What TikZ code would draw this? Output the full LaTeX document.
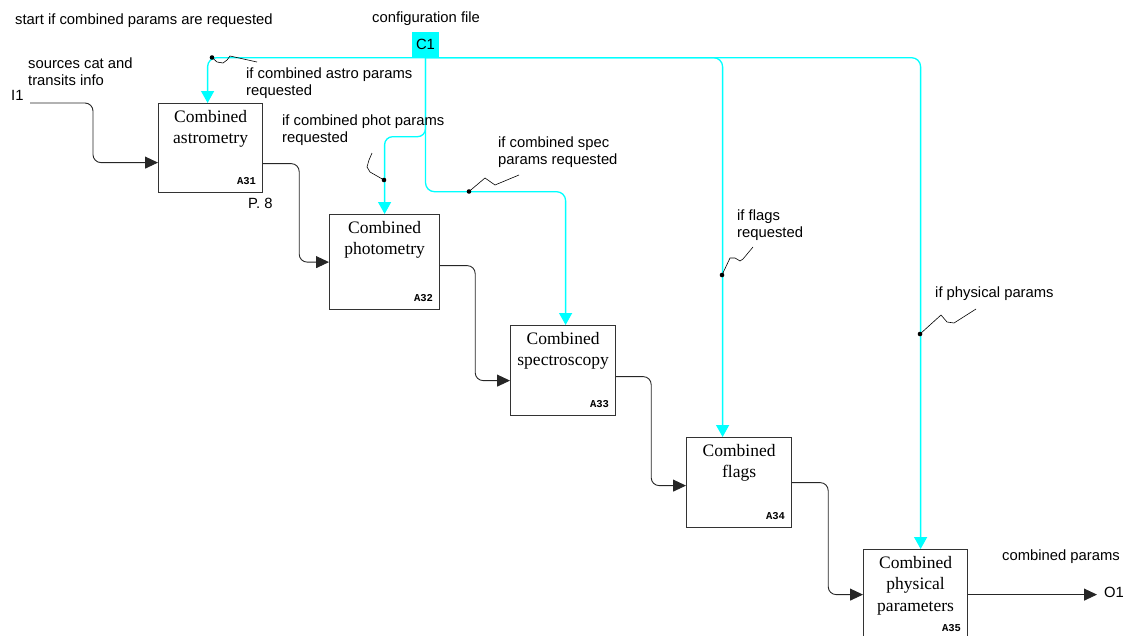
\documentclass[tikz,border=0pt]{standalone}
\usepackage{fontspec}
\setmainfont{Liberation Serif}
\setsansfont{Liberation Sans}
\setmonofont{Liberation Mono}
\usetikzlibrary{arrows.meta,calc}

\definecolor{cyanline}{RGB}{0,255,255}

\tikzset{
  fbox/.style={draw=black!80, line width=1.2pt, rectangle, inner sep=0pt, anchor=north west},
  btext/.style={anchor=north, align=center, inner sep=0pt, font=\fontsize{17.5}{21.5}\selectfont},
  bid/.style={anchor=south east, inner sep=0pt, font=\ttfamily\bfseries\fontsize{10.5}{10.5}\selectfont},
  lab/.style={anchor=west, align=left, inner sep=0pt, font=\sffamily\fontsize{14.8}{17}\selectfont},
  flow/.style={draw=black!85, line width=0.9pt, rounded corners=8pt, -{Triangle[length=13pt,width=12pt]}},
  ctrl/.style={draw=cyanline, line width=1.3pt, rounded corners=9pt},
  ctrlarr/.style={ctrl, -{Triangle[length=12pt,width=13pt]}},
  squig/.style={draw=black, line width=0.6pt},
  junction/.style={fill=black},
}

\begin{document}
\begin{tikzpicture}[x=1pt,y=-1pt]
\useasboundingbox (0,0) rectangle (1126,635);

% activity boxes
\node[fbox, minimum width=104pt, minimum height=89pt] (A31) at (158,103) {};
\node[fbox, minimum width=110pt, minimum height=95pt] (A32) at (329,214) {};
\node[fbox, minimum width=105pt, minimum height=90pt] (A33) at (510,325) {};
\node[fbox, minimum width=105pt, minimum height=90pt] (A34) at (686,437) {};
\node[fbox, minimum width=104pt, minimum height=90pt] (A35) at (863,549) {};

\node[btext] (t31) at ([yshift=-7pt]A31.north) {Combined\\astrometry};
\node[btext] (t32) at ([yshift=-7pt]A32.north) {Combined\\photometry};
\node[btext] (t33) at ([yshift=-7pt]A33.north) {Combined\\spectroscopy};
\node[btext] (t34) at ([yshift=-7pt]A34.north) {Combined\\flags};
\node[btext] (t35) at ([yshift=-7pt]A35.north) {Combined\\physical\\parameters};

\node[bid] (n31) at ([xshift=-7pt,yshift=8pt]A31.south east) {A31};
\node[bid] (n32) at ([xshift=-7pt,yshift=8pt]A32.south east) {A32};
\node[bid] (n33) at ([xshift=-7pt,yshift=8pt]A33.south east) {A33};
\node[bid] (n34) at ([xshift=-7pt,yshift=8pt]A34.south east) {A34};
\node[bid] (n35) at ([xshift=-7pt,yshift=8pt]A35.south east) {A35};

% control input
\node[fill=cyanline, minimum width=27pt, minimum height=26pt, inner sep=0pt,
      font=\sffamily\fontsize{14.8}{14.8}\selectfont] (C1) at (425.5,44.5) {C1};

\draw[ctrlarr] (C1.south) -| ([xshift=-3pt]A31.north);
\draw[ctrlarr] (C1.south) -| ([xshift=-16.5pt]A34.north);
\draw[ctrlarr] (C1.south) -| ([xshift=5pt]A35.north);
\draw[ctrlarr] (C1.south) -- ++(0,134) -| ([xshift=2.5pt]A33.north);
\draw[ctrlarr, rounded corners=8pt] (C1.south) -- ++(0,79) -| (A32.north);

% branch junctions and their label leaders
\coordinate (j1) at (212,57.5);
\coordinate (j2) at (384,180);
\coordinate (j3) at (469,191.5);
\coordinate (j4) at (722,275);
\coordinate (j5) at (920,334);
\foreach \j in {j1,j2,j3,j4,j5} \fill[junction] (\j) circle (2.3pt);

\draw[squig] (j1) -- (217,62) -- (223,63) -- (227,60) -- (230,56) -- (257,62);
\draw[squig] (j2) -- (370,172) -- (367,167) -- (369,160) -- (372,153);
\draw[squig] (j3) -- (485,178) -- (495,185) -- (519,175);
\draw[squig] (j4) -- (730,258) -- (735,258) -- (740,261) -- (743,259) -- (753,247);
\draw[squig] (j5) -- (941,315) -- (947,322) -- (954,323) -- (976,309);

% data flows
\node[lab] (I1) at (11,95) {I1};
\coordinate (i1) at (30,103);
\coordinate (o1) at (1097,593);
\node[lab] (O1) at (1104,592) {O1};

\draw[flow] (i1) -- ++(63,0) |- ([yshift=-14.5pt]A31.west);
\draw[flow] ([yshift=-15.5pt]A31.east) -- ++(36,0) |- (A32.west);
\draw[flow] ([yshift=-3.5pt]A32.east) -- ++(35,0) |- ([yshift=-10pt]A33.west);
\draw[flow] ([yshift=-6pt]A33.east) -- ++(35,0) |- ([yshift=-3pt]A34.west);
\draw[flow] (A34.east) -- ++(36,0) |- (A35.west);
\draw[flow] (A35.east) -- (A35.east -| o1);

% labels
\node[lab] (lstart) at (15,21) {start if combined params are requested};
\node[lab] (lconf) at (372,19) {configuration file};
\node[lab] (lsrc) at (28,72) {sources cat and\\transits info};
\node[lab] (lastro) at (246,83) {if combined astro params\\requested};
\node[lab] (lphot) at (282,130) {if combined phot params\\requested};
\node[lab] (lspec) at (498,152.5) {if combined spec\\params requested};
\node[lab] (lflag) at (737,225) {if flags\\requested};
\node[lab] (lphys) at (935,294) {if physical params};
\node[lab] (lpage) at (248,203) {P. 8};
\node[lab] (lout) at (1002,557) {combined params};
\end{tikzpicture}
\end{document}
